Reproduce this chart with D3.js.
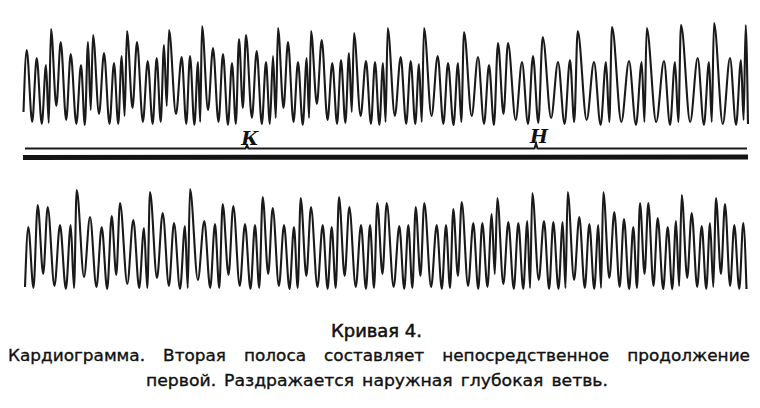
<!DOCTYPE html>
<html><head><meta charset="utf-8">
<script src="https://cdn.jsdelivr.net/npm/d3@7"></script>
<style>
html,body{margin:0;padding:0;background:#fff;}
svg{display:block;}
text{fill:#111;}
</style></head>
<body>
<svg id="chart" width="760" height="408"></svg>
<script>
// ---- Data (time in mm of tape, deflection in mm above the strip's base) ----
const topPeakTimes = [6.7,16.7,26,31,40.7,50.7,61,68,73,84,94,101.7,107,117,127.7,136.7,144,149,161.7,170,178,182,193,203,212,219,226,236.7,246,253,258,268,278,286.7,291,301.7,312.3,321,329,334,346,355,363,367.7,380.7,390.7,399,404,417.7,428,438,444,458,469,478,488,502,513,522.7,538,550,557.7,574,586,592,609,621.7,626.7,644,655,661,677.7,689,694,710,721,725.7];
const topPeakValues = [78,70,63,99,86,74,63,86,93,75,65,72,97,86,67,70,83,98,71,72,66,102,80,74,65,89,93,77,66,72,100,86,66,70,97,88,65,68,75,95,67,66,65,100,71,67,64,100,72,65,65,96,71,63,85,85,66,72,91,66,68,97,66,66,101,67,66,100,67,66,103,70,66,105,70,68,103];
const topTroughValues = [6,4,5,22,8,4,3,18,14,4,4,12,20,6,4,6,22,14,4,3,6,18,6,3,4,20,10,4,4,10,20,6,3,10,24,8,4,5,16,12,4,3,6,12,4,4,6,12,4,3,6,12,4,3,14,8,4,5,10,4,6,8,3,6,6,3,6,6,3,6,6,3,6,4,3,8];
const topStart = {t: 3.5, v: 16};
const topEnd = {t: 728, v: 4};

const bottomPeakTimes = [8.3,17.7,27.7,40,50.7,56.7,70,81.7,91.7,100,113.3,124,130,142.7,154,165,170,184.3,195,202.7,213.3,225,235,242.7,252.7,264,274,280.7,291,302.7,311.7,319,329.3,341,350,357.3,366.7,379.3,388.3,395.7,404.3,416.7,426,433.3,441.7,453.3,462.3,471.7,477.3,488.3,498.3,507.3,512.3,524,533.3,542.7,547.7,559.3,569.3,578.3,583.3,594.3,604,613.3,620,628.3,637.7,647.7,656,661.7,671.7,681.7,690,696,705,714.3,723.3];
const bottomPeakValues = [65,87,85,67,67,102,75,65,76,89,72,64,100,79,69,66,103,71,68,88,86,68,67,95,84,67,65,94,85,67,65,95,85,67,67,89,89,66,67,85,89,67,67,83,90,69,69,78,94,70,69,71,99,71,70,70,100,75,68,67,100,80,73,65,89,89,74,65,71,97,79,66,69,94,88,67,69];
const bottomTroughValues = [4,18,6,3,4,15,5,3,17,8,4,4,14,6,3,4,12,4,4,17,6,3,4,18,6,3,4,16,5,3,4,16,5,3,4,18,5,3,4,16,5,3,4,16,6,3,5,18,8,3,3,4,12,3,3,4,12,4,3,4,14,5,3,4,18,6,3,3,6,14,5,3,5,18,6,3];
const bottomStart = {t: 5, v: 5};
const bottomEnd = {t: 726.5, v: 3};

// time-marker (signal) line with the two marks
const markerNames = ["К", "Н"];
const markerTimes = [227, 516];
const markerHeights = [3, 5];
const tapeStart = 5, tapeEnd = 727;

const titleText = "Кривая 4.";
const captionLines = [
  "Кардиограмма. Вторая полоса составляет непосредственное продолжение",
  "первой. Раздражается наружная глубокая ветвь."
];

// ---- Drawing ----
const svg = d3.select("#chart");
const x = d3.scaleLinear().domain([0, 730]).range([20, 750]);
const yTop = d3.scaleLinear().domain([0, 100]).range([128, 28]);
const yBottom = d3.scaleLinear().domain([0, 100]).range([292, 192]);
const ySignal = d3.scaleLinear().domain([0, 10]).range([148.5, 138.5]);

function tracePoints(times, peaks, troughs, start, end) {
  const pts = [start];
  times.forEach((t, i) => {
    pts.push({t, v: peaks[i]});
    if (i < times.length - 1) {
      const tt = t + 0.55 * (times[i + 1] - t);
      pts.push({t: tt, v: troughs[i]});
    }
  });
  pts.push(end);
  return pts;
}

function drawTrace(pts, y) {
  const line = d3.line().x(d => x(d.t)).y(d => y(d.v)).curve(d3.curveMonotoneX);
  svg.append("path")
    .attr("d", line(pts))
    .attr("fill", "none")
    .attr("stroke", "#1a1a1a")
    .attr("stroke-width", 2.1)
    .attr("stroke-linejoin", "round");
}

drawTrace(tracePoints(topPeakTimes, topPeakValues, topTroughValues, topStart, topEnd), yTop);
drawTrace(tracePoints(bottomPeakTimes, bottomPeakValues, bottomTroughValues, bottomStart, bottomEnd), yBottom);

// signal line with marks
const sigPts = [{t: tapeStart, v: 0}];
markerTimes.forEach((t, i) => {
  sigPts.push({t: t - 1.5, v: 0});
  sigPts.push({t: t, v: markerHeights[i]});
  sigPts.push({t: t + 1.5, v: 0});
});
sigPts.push({t: tapeEnd, v: 0});
svg.append("path")
  .attr("d", d3.line().x(d => x(d.t)).y(d => ySignal(d.v))(sigPts))
  .attr("fill", "none").attr("stroke", "#1a1a1a").attr("stroke-width", 2);

// thick base line
svg.append("line")
  .attr("x1", x(tapeStart - 2)).attr("x2", x(tapeEnd + 1))
  .attr("y1", 157.5).attr("y2", 157)
  .attr("stroke", "#141414").attr("stroke-width", 5);

// marker letters
markerNames.forEach((n, i) => {
  svg.append("text")
    .attr("x", x(markerTimes[i]) + 3)
    .attr("y", ySignal(markerHeights[i]) - 1)
    .attr("text-anchor", "middle")
    .style("font-family", "'DejaVu Serif', serif")
    .style("font-style", "italic")
    .style("font-weight", "bold")
    .style("font-size", "19px")
    .text(n);
});

// caption: each line stretched uniformly to the width of the print
const fam = "'DejaVu Sans',sans-serif";
function captionLine(str, left, right, gap, y, size) {
  const words = str.split(" ");
  const nodes = words.map(w => svg.append("text")
    .attr("y", y)
    .style("font-family", fam).style("font-size", size + "px")
    .style("stroke", "#111").style("stroke-width", 0.35)
    .text(w));
  const widths = nodes.map(n => n.node().getComputedTextLength());
  const total = d3.sum(widths);
  const s = (right - left - gap * (words.length - 1)) / total;
  let cx = left;
  nodes.forEach((n, i) => {
    n.attr("x", cx).attr("textLength", widths[i] * s).attr("lengthAdjust", "spacingAndGlyphs");
    cx += widths[i] * s + gap;
  });
}
svg.append("text")
  .attr("x", 331).attr("y", 337)
  .attr("textLength", 91).attr("lengthAdjust", "spacingAndGlyphs")
  .style("font-family", fam).style("font-size", "17px")
  .style("stroke", "#111").style("stroke-width", 0.5)
  .text(titleText);
captionLine(captionLines[0], 8, 750, 18, 361, 15.5);
captionLine(captionLines[1], 146, 608, 8, 386, 15.5);
</script>
</body></html>
